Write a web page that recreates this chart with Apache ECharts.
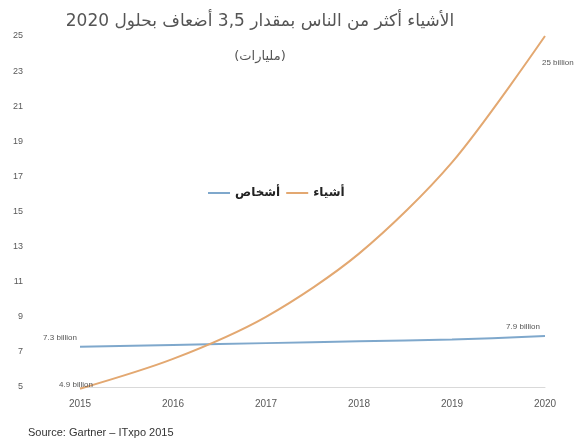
<!DOCTYPE html>
<html>
<head>
<meta charset="utf-8">
<script src="https://cdn.jsdelivr.net/npm/echarts@6/dist/echarts.min.js"></script>
<style>
  html, body { margin: 0; padding: 0; background: #fff; }
  #main { width: 579px; height: 446px; }
</style>
</head>
<body>
<div id="main"></div>
<script>
// 数据
const years = ['2015', '2016', '2017', '2018', '2019', '2020'];
const things = [4.9, 6.6, 9.0, 12.6, 17.8, 25];
const people = [7.3, 7.4, 7.5, 7.6, 7.7, 7.9];
const thingsName = 'أشياء';
const peopleName = 'أشخاص';

// 只在首尾标注数值
function withEndLabels(values, firstLabel, lastLabel) {
  return values.map((v, i) => {
    if (i === 0) return { value: v, label: Object.assign({ show: true, formatter: v + ' billion' }, firstLabel) };
    if (i === values.length - 1) return { value: v, label: Object.assign({ show: true, formatter: v + ' billion' }, lastLabel) };
    return v;
  });
}

const chart = echarts.init(document.getElementById('main'));

const labelText = { fontSize: 8, color: '#555', fontFamily: 'Liberation Sans' };

const option = {
  animation: false,
  title: {
    text: 'الأشياء أكثر من الناس بمقدار 3,5 أضعاف بحلول 2020',
    subtext: '(مليارات)',
    left: 255,
    top: 8,
    textAlign: 'center',
    itemGap: 20,
    textStyle: { fontSize: 17, fontWeight: 'normal', color: '#555', fontFamily: 'DejaVu Sans' },
    subtextStyle: { fontSize: 13, color: '#555', fontFamily: 'DejaVu Sans' }
  },
  legend: {
    data: [peopleName, thingsName],
    left: 203,
    top: 182,
    icon: 'rect',
    itemWidth: 22,
    itemHeight: 2,
    itemGap: 6,
    textStyle: { fontSize: 12, fontWeight: 'bold', color: '#222', fontFamily: 'DejaVu Sans' }
  },
  grid: {
    left: 80,
    right: 34,
    top: 36,
    bottom: 59
  },
  xAxis: {
    type: 'category',
    data: years,
    boundaryGap: false,
    axisLine: { lineStyle: { color: '#d9d9d9', width: 1 } },
    axisTick: { show: false },
    axisLabel: { color: '#595959', fontSize: 10, margin: 12, fontFamily: 'Liberation Sans' }
  },
  yAxis: {
    type: 'value',
    min: 5,
    max: 25,
    interval: 2,
    splitLine: { show: false },
    axisLine: { show: false },
    axisTick: { show: false },
    axisLabel: { color: '#595959', fontSize: 9, margin: 57, fontFamily: 'Liberation Sans' }
  },
  series: [
    {
      name: peopleName,
      type: 'line',
      symbol: 'circle',
      symbolSize: 0,
      smooth: 0.3,
      clip: false,
      lineStyle: { color: '#7fa8cc', width: 2 },
      itemStyle: { color: '#7fa8cc' },
      data: withEndLabels(people,
        Object.assign({ position: 'top', offset: [-20, 0] }, labelText),
        Object.assign({ position: 'top', offset: [-22, 0] }, labelText))
    },
    {
      name: thingsName,
      type: 'line',
      symbol: 'circle',
      symbolSize: 0,
      smooth: 0.3,
      clip: false,
      lineStyle: { color: '#e3a871', width: 2 },
      itemStyle: { color: '#e3a871' },
      data: withEndLabels(things,
        Object.assign({ position: 'top', offset: [-4, 5] }, labelText),
        Object.assign({ position: 'right', offset: [-8, 27] }, labelText))
    }
  ],
  graphic: [{
    type: 'text',
    left: 28,
    top: 427,
    style: { text: 'Source: Gartner – ITxpo 2015', fontSize: 11, fill: '#333', fontFamily: 'Liberation Sans' }
  }]
};

chart.setOption(option);
</script>
</body>
</html>
